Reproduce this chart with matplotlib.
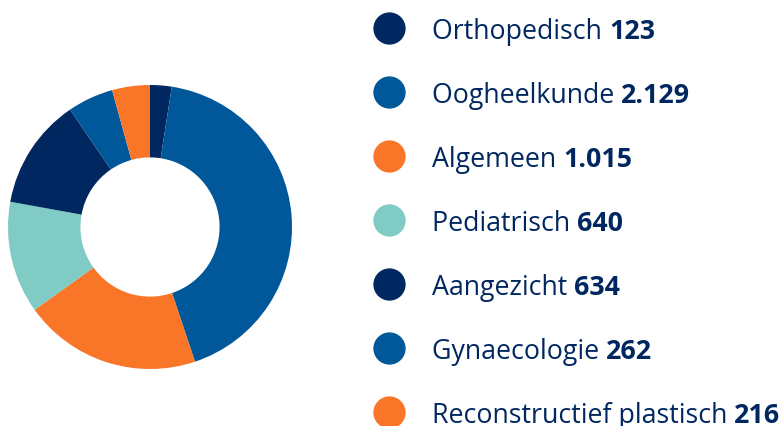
import matplotlib
matplotlib.use("Agg")
import matplotlib.pyplot as plt

# Data
labels = ['Orthopedisch', 'Oogheelkunde', 'Algemeen', 'Pediatrisch',
          'Aangezicht', 'Gynaecologie', 'Reconstructief plastisch']
values = [123, 2129, 1015, 640, 634, 262, 216]
colors = ['#00275f', '#00579a', '#f97628', '#80cbc4',
          '#00275f', '#00579a', '#f97628']

W, H = 783, 427
fig = plt.figure(figsize=(W / 100, H / 100), dpi=100)

# donut
cx, cy, r = 150, 228, 142
ax = fig.add_axes([(cx - r) / W, (H - cy - r) / H, 2 * r / W, 2 * r / H])
ax.pie(values, colors=colors, startangle=90, counterclock=False,
       radius=1, wedgeprops=dict(width=0.51, linewidth=0))
ax.set_xlim(-1, 1)
ax.set_ylim(-1, 1)
ax.axis('off')

# legend in pixel coordinates
lax = fig.add_axes([0, 0, 1, 1])
lax.set_xlim(0, W)
lax.set_ylim(H, 0)
lax.axis('off')

txt_color = '#00275f'
font = 'Open Sans'
fs = 19.3
y0, dy = 29, 64
renderer = fig.canvas.get_renderer()

for i, (lab, val, col) in enumerate(zip(labels, values, colors)):
    y = y0 + i * dy
    lax.scatter([389], [y], s=540, color=col, linewidths=0)
    t = lax.text(432, y, lab + ' ', fontsize=fs, family=font, color=txt_color,
                 va='center_baseline', ha='left')
    bb = t.get_window_extent(renderer=renderer)
    val_txt = f'{val:,}'.replace(',', '.')
    lax.text(bb.x1, y, val_txt, fontsize=fs, family=font, color=txt_color,
             fontweight='bold', va='center_baseline', ha='left')

fig.savefig('out.png', dpi=100)
